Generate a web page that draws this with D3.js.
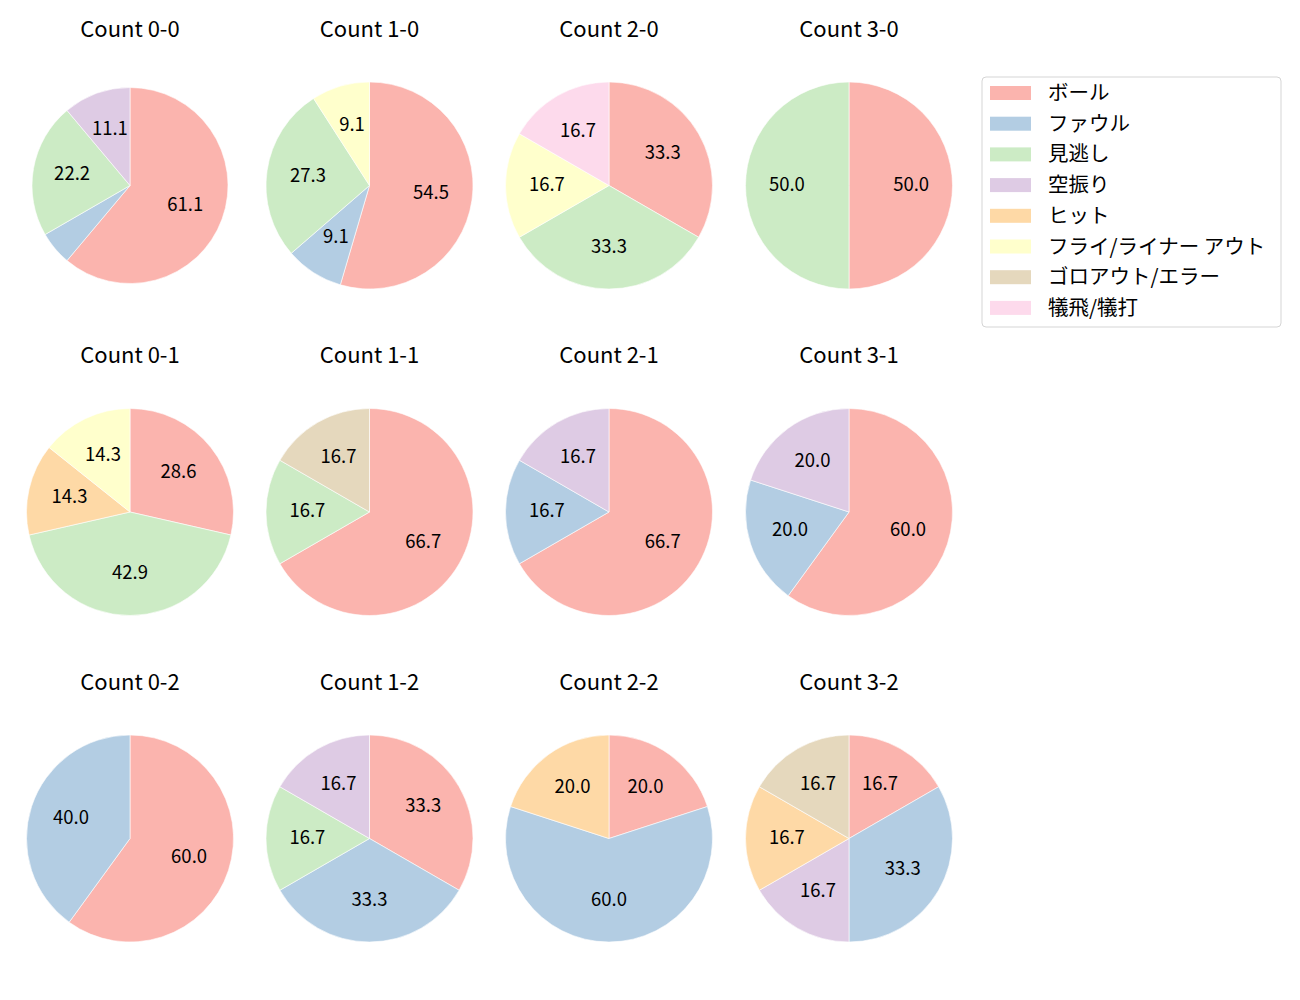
<!DOCTYPE html>
<html>
<head>
<meta charset="utf-8">
<script src="https://cdn.jsdelivr.net/npm/d3@7"></script>
<style>
  html, body { margin: 0; padding: 0; background: #fff; }
  svg text { font-family: "Noto Sans CJK JP", "Noto Sans", sans-serif; }
</style>
</head>
<body>
<svg id="chart" width="1300" height="1000"></svg>
<script>
// ---- data ----
const categories = ["ボール", "ファウル", "見逃し", "空振り", "ヒット", "フライ/ライナー アウト", "ゴロアウト/エラー", "犠飛/犠打"];
const countLabels = ["Count 0-0", "Count 1-0", "Count 2-0", "Count 3-0",
                     "Count 0-1", "Count 1-1", "Count 2-1", "Count 3-1",
                     "Count 0-2", "Count 1-2", "Count 2-2", "Count 3-2"];
// pitch counts per category, in category order
const count00 = [11, 1, 4, 2, 0, 0, 0, 0];
const count10 = [6, 1, 3, 0, 0, 1, 0, 0];
const count20 = [2, 0, 2, 0, 0, 1, 0, 1];
const count30 = [1, 0, 1, 0, 0, 0, 0, 0];
const count01 = [2, 0, 3, 0, 1, 1, 0, 0];
const count11 = [4, 0, 1, 0, 0, 0, 1, 0];
const count21 = [4, 1, 0, 1, 0, 0, 0, 0];
const count31 = [3, 1, 0, 1, 0, 0, 0, 0];
const count02 = [3, 2, 0, 0, 0, 0, 0, 0];
const count12 = [2, 2, 1, 1, 0, 0, 0, 0];
const count22 = [1, 3, 0, 0, 1, 0, 0, 0];
const count32 = [1, 2, 0, 1, 1, 0, 1, 0];
const seriesValues = [count00, count10, count20, count30,
                      count01, count11, count21, count31,
                      count02, count12, count22, count32];

// ---- style / layout ----
const colors = ["#fbb4ae", "#b3cde3", "#ccebc5", "#decbe4", "#fed9a6", "#ffffcc", "#e5d8bd", "#fddaec"];
const colX = [130, 369.5, 609, 849];
const rowY = [185.5, 512, 838.5];
const radii = [98, 103.5, 103.5, 103.5, 103.5, 103.5, 103.5, 103.5, 103.5, 103.5, 103.5, 103.5];
const titleOffset = 156;
const textShift = -3;
const minLabelPct = 6;

const svg = d3.select("#chart");
const color = d3.scaleOrdinal().domain(categories).range(colors);
const pie = d3.pie().sort(null).value(d => d.v);

seriesValues.forEach((vals, i) => {
  const cx = colX[i % 4], cy = rowY[Math.floor(i / 4)];
  const r = radii[i];
  const total = d3.sum(vals);
  const data = categories.map((c, k) => ({ c, v: vals[k] })).filter(d => d.v > 0);
  const arcs = pie(data);
  const arc = d3.arc().innerRadius(0).outerRadius(r);
  const labelArc = d3.arc().innerRadius(r * 0.6).outerRadius(r * 0.6);
  const g = svg.append("g").attr("transform", `translate(${cx},${cy})`);
  g.selectAll("path").data(arcs).join("path")
    .attr("d", arc)
    .attr("fill", d => color(d.data.c))
    .attr("stroke", "#ffffff")
    .attr("stroke-width", 0.6);
  g.selectAll("text.pct").data(arcs.filter(d => d.data.v / total * 100 >= minLabelPct)).join("text")
    .attr("class", "pct")
    .attr("transform", d => { const p = labelArc.centroid(d); return `translate(${p[0]},${p[1] + textShift})`; })
    .attr("text-anchor", "middle")
    .attr("dominant-baseline", "central")
    .attr("font-size", 18.5)
    .attr("fill", "#000")
    .text(d => (d.data.v / total * 100).toFixed(1));
  svg.append("text")
    .attr("x", cx)
    .attr("y", cy - titleOffset + textShift)
    .attr("text-anchor", "middle")
    .attr("dominant-baseline", "central")
    .attr("font-size", 22)
    .attr("fill", "#000")
    .text(countLabels[i]);
});

// legend
const lg = svg.append("g").attr("transform", "translate(982,77)");
lg.append("rect").attr("x", 0).attr("y", 0).attr("width", 299).attr("height", 250)
  .attr("rx", 4).attr("fill", "#fff").attr("stroke", "#d5d5d5").attr("stroke-width", 1);
const rowStep = 30.7;
categories.forEach((c, k) => {
  const y = 16 + k * rowStep;
  lg.append("rect").attr("x", 8).attr("y", y - 7).attr("width", 41).attr("height", 14).attr("fill", color(c));
  lg.append("text").attr("x", 66).attr("y", y - 2).attr("dominant-baseline", "central")
    .attr("font-size", 20.5).attr("fill", "#000").text(c);
});
</script>
</body>
</html>
